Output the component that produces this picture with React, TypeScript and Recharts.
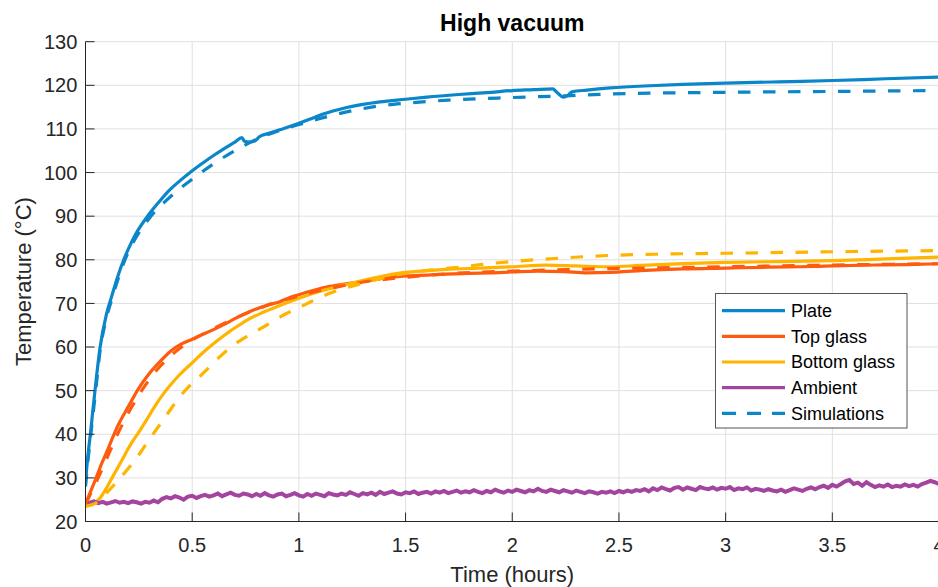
import { CartesianGrid, ComposedChart, Line, XAxis, YAxis } from "recharts"

// Temperatures (°C) against time (hours).
type Pt = [number, number]

const plateMeasured: Pt[] = [
  [0, 29], [0.008, 33.5], [0.016, 37.2], [0.025, 41], [0.033, 44.8],
  [0.05, 52.5], [0.067, 59.5], [0.098, 67.5], [0.122, 71.5], [0.15, 76],
  [0.176, 79.6], [0.2, 82.4], [0.24, 86.3], [0.294, 90.2], [0.34, 93],
  [0.39, 95.8], [0.442, 98.1], [0.505, 100.6], [0.55, 102.2], [0.6, 103.9],
  [0.65, 105.5], [0.7, 107.0], [0.733, 108.0], [0.745, 107.2], [0.77, 107.0],
  [0.795, 107.3], [0.815, 108.2], [0.86, 109.0], [0.91, 109.8], [0.96, 110.6],
  [1.0, 111.3], [1.05, 112.2], [1.114, 113.4], [1.224, 114.9], [1.38, 116.2],
  [1.5, 116.8], [1.6, 117.3], [1.75, 117.9], [1.9, 118.4], [2.0, 118.8],
  [2.1, 119.0], [2.19, 119.2], [2.205, 118.6], [2.24, 117.3], [2.26, 117.7],
  [2.28, 118.5], [2.35, 118.9], [2.46, 119.4], [2.645, 119.9], [2.8, 120.2],
  [3.0, 120.5], [3.25, 120.8], [3.505, 121.1], [3.75, 121.5], [4.0, 121.9],
]

const topGlassMeasured: Pt[] = [
  [0, 24], [0.025, 27], [0.05, 30], [0.075, 33.2], [0.1, 36], [0.15, 41.8],
  [0.2, 46.3], [0.25, 50.6], [0.3, 54], [0.35, 56.7], [0.4, 59.1], [0.45, 60.7],
  [0.5, 61.8], [0.55, 62.9], [0.6, 64], [0.65, 65.2], [0.7, 66.5], [0.755, 67.8],
  [0.8, 68.7], [0.85, 69.6], [0.911, 70.4], [0.95, 71.2], [1.0, 72], [1.07, 73],
  [1.145, 73.9], [1.22, 74.5], [1.3, 75.0], [1.4, 75.8], [1.5, 76.3], [1.6, 76.5],
  [1.69, 76.7], [1.8, 76.9], [1.9, 77.0], [2.0, 77.2], [2.12, 77.4], [2.24, 77.3],
  [2.35, 77.0], [2.46, 77.1], [2.6, 77.5], [2.8, 77.9], [3.0, 78.1], [3.2, 78.3],
  [3.35, 78.4], [3.5, 78.6], [3.7, 78.8], [3.85, 78.9], [4.0, 79.1],
]

const bottomGlassMeasured: Pt[] = [
  [0, 23.5], [0.03, 23.9], [0.067, 25.3], [0.1, 27.8], [0.129, 30.4], [0.17, 34],
  [0.208, 37.4], [0.25, 40.5], [0.286, 43.3], [0.325, 46.4], [0.364, 49.2],
  [0.4, 51.4], [0.442, 53.7], [0.505, 56.6], [0.55, 58.7], [0.598, 60.7],
  [0.64, 62.3], [0.676, 63.6], [0.72, 65.0], [0.755, 66.1], [0.83, 67.9],
  [0.911, 69.5], [1.0, 71.2], [1.1, 72.8], [1.22, 74.3], [1.35, 75.8], [1.5, 77.1],
  [1.6, 77.5], [1.69, 77.8], [1.85, 78.1], [2.0, 78.4], [2.16, 78.8], [2.3, 78.6],
  [2.46, 78.4], [2.6, 78.7], [2.8, 79.1], [3.0, 79.4], [3.25, 79.6], [3.5, 79.8],
  [3.75, 80.2], [4.0, 80.6],
]

// ambient logger, one reading every 0.02 h from t = 0
const ambientStep = 0.02
const ambientTemps = [
  24.0, 24.3, 24.6, 24.2, 24.5, 24.1, 24.4, 24.7, 24.3, 24.5,
  24.2, 24.6, 24.4, 24.1, 24.5, 24.3, 24.8, 24.4, 25.2, 25.6,
  25.3, 25.8, 25.5, 25.0, 25.7, 25.9, 25.4, 25.8, 26.1, 25.7,
  26.0, 26.4, 25.8, 26.2, 26.6, 26.1, 25.9, 26.4, 26.2, 25.8,
  26.3, 25.9, 26.5, 26.0, 25.7, 26.2, 26.4, 25.8, 26.1, 26.5,
  26.0, 25.7, 26.3, 25.9, 26.4, 26.1, 25.8, 26.5, 26.2, 26.0,
  26.4, 26.1, 26.7, 26.3, 25.9, 26.5, 26.2, 26.6, 26.1, 26.8,
  26.3, 26.6, 26.9, 26.4, 26.2, 26.7, 26.5, 26.9, 26.3, 26.6,
  26.8, 26.4, 26.9, 26.6, 27.0, 26.5, 26.8, 27.1, 26.6, 26.9,
  26.7, 27.2, 26.8, 26.5, 27.0, 26.7, 27.3, 26.9, 26.6, 27.1,
  26.8, 27.3, 27.0, 26.7, 27.2, 26.9, 27.5, 27.0, 26.8, 27.3,
  27.0, 26.7, 27.2, 26.9, 26.6, 27.1, 26.8, 26.5, 26.9, 26.7,
  26.4, 26.8, 26.6, 26.9, 26.5, 27.0, 26.7, 27.1, 26.8, 27.2,
  27.0, 27.4, 26.9, 27.6, 27.2, 27.8, 27.4, 27.1, 27.7, 27.9,
  27.3, 27.8, 27.5, 27.2, 27.9, 27.6, 27.4, 27.8, 27.3, 27.7,
  27.5, 27.9, 27.2, 27.6, 27.4, 27.8, 27.1, 27.5, 27.3, 27.0,
  27.4, 27.1, 26.9, 27.3, 26.8, 27.2, 27.6, 27.3, 27.0, 27.5,
  27.8, 27.4, 27.9, 28.2, 27.7, 28.4, 28.0, 28.6, 29.2, 29.5,
  28.6, 28.9, 28.2, 29.0, 28.4, 27.9, 28.3, 28.0, 28.5, 27.9,
  28.2, 28.0, 28.5, 28.1, 28.4, 28.0, 28.6, 28.9, 29.3, 29.0,
  28.6,
]

const plateSim: Pt[] = [
  [0, 28], [0.016, 36], [0.033, 43.5], [0.05, 51], [0.067, 58.6], [0.098, 66.6],
  [0.122, 70.8], [0.15, 75.2], [0.176, 78.9], [0.2, 81.7], [0.24, 85.4],
  [0.3, 89.6], [0.37, 93.2], [0.45, 96.6], [0.52, 99.2], [0.6, 102.0],
  [0.7, 105.0], [0.8, 107.6], [0.9, 109.5], [1.0, 111.0], [1.114, 112.6],
  [1.224, 113.9], [1.38, 115.3], [1.5, 115.9], [1.7, 116.6], [2.0, 117.2],
  [2.25, 117.6], [2.458, 118.0], [2.645, 118.2], [3.0, 118.4], [3.5, 118.6],
  [4.0, 118.8],
]

const topGlassSim: Pt[] = [
  [0, 24], [0.05, 29], [0.1, 34.5], [0.15, 40], [0.2, 44.8], [0.25, 49],
  [0.3, 52.6], [0.35, 55.6], [0.4, 58], [0.45, 60], [0.5, 61.6], [0.6, 64.2],
  [0.7, 66.6], [0.8, 68.6], [0.9, 70.3], [1.0, 71.7], [1.1, 73.0], [1.2, 74.0],
  [1.3, 74.9], [1.4, 75.5], [1.5, 76.0], [1.7, 76.8], [2.0, 77.4], [2.3, 77.8],
  [2.6, 78.1], [3.0, 78.4], [3.5, 78.8], [4.0, 79.1],
]

const bottomGlassSim: Pt[] = [
  [0, 23.5], [0.05, 24.3], [0.098, 26.5], [0.15, 29.3], [0.208, 32.6],
  [0.25, 35.3], [0.286, 37.9], [0.325, 40.6], [0.364, 43.3], [0.4, 45.8],
  [0.442, 48.6], [0.48, 50.7], [0.52, 52.5], [0.57, 54.9], [0.63, 57.8],
  [0.69, 60.3], [0.755, 62.4], [0.82, 64.2], [0.88, 65.9], [0.93, 67.4],
  [0.99, 68.8], [1.036, 69.9], [1.1, 71.4], [1.16, 72.6], [1.23, 73.7],
  [1.3, 74.6], [1.4, 75.9], [1.5, 76.9], [1.63, 77.7], [1.75, 78.3],
  [1.87, 79.0], [2.0, 79.6], [2.2, 80.3], [2.46, 81.0], [2.7, 81.3],
  [3.0, 81.5], [3.3, 81.7], [3.6, 81.9], [4.0, 82.1],
]

const xTicks = [0, 0.5, 1, 1.5, 2, 2.5, 3, 3.5, 4]
const yTicks = [20, 30, 40, 50, 60, 70, 80, 90, 100, 110, 120, 130]
const legendNames = ["Plate", "Top glass", "Bottom glass", "Ambient", "Simulations"]

const FONT = '"Liberation Sans", Arial, Helvetica, sans-serif'
const AXIS = "#262626"
const GRID = "#e0e0e0"
const BLUE = "#0a86c9"
const RED = "#ff5b0f"
const YELLOW = "#ffb400"
const PURPLE = "#a3449e"
const DASH = "12.5 12.5"
const LW = 3.2

const legendColor: Record<string, string> = {
  Plate: BLUE, "Top glass": RED, "Bottom glass": YELLOW, Ambient: PURPLE, Simulations: BLUE,
}

const rows = (pts: Pt[]) => pts.map(([t, T]) => ({ t, T }))
const ambientRows = ambientTemps.map((T, i) => ({ t: +(i * ambientStep).toFixed(2), T }))

const fmtX = (v: number) => String(v)

function YTitle({ viewBox }: any) {
  const x = viewBox.x + 30.5
  const y = viewBox.y + viewBox.height / 2
  return (
    <text x={x} y={y} transform={`rotate(-90, ${x}, ${y})`} textAnchor="middle"
      fontFamily={FONT} fontSize={22} fill={AXIS}>
      Temperature (°C)
    </text>
  )
}

function XTitle({ viewBox }: any) {
  return (
    <text x={viewBox.x + viewBox.width / 2} y={viewBox.y + 60.5} textAnchor="middle"
      fontFamily={FONT} fontSize={22} fill={AXIS}>
      Time (hours)
    </text>
  )
}

function LegendBox() {
  return (
    <svg width={193} height={136} style={{ position: "absolute", left: 715, top: 293 }}>
      <rect x={0.5} y={0.5} width={191.5} height={134.5} fill="#fff" stroke="#555" strokeWidth={1} />
      {legendNames.map((name, i) => {
        const cy = 17.6 + i * 25.7
        return (
          <g key={name}>
            <line x1={7} x2={70} y1={cy} y2={cy} stroke={legendColor[name]} strokeWidth={LW}
              strokeDasharray={name === "Simulations" ? "14 11" : undefined} />
            <text x={76} y={cy + 6.3} fontFamily={FONT} fontSize={18} fill="#000">{name}</text>
          </g>
        )
      })}
    </svg>
  )
}

export default function App() {
  const common = { dataKey: "T", dot: false, isAnimationActive: false, strokeWidth: LW, type: "monotone" as const }
  return (
    <div style={{ position: "absolute", left: 0, top: 0, width: 938, height: 587, overflow: "hidden", background: "#fff" }}>
      <ComposedChart width={1000} height={587} margin={{ top: 41.7, right: 61, bottom: 0, left: 0.5 }}>
        <text x={512.3} y={30.7} textAnchor="middle" fontFamily={FONT} fontSize={23} fontWeight="bold" fill="#000">
          High vacuum
        </text>
        <CartesianGrid stroke={GRID} strokeWidth={1} />
        <XAxis
          dataKey="t" type="number" domain={[0, 4]} ticks={xTicks} interval={0}
          height={65.5} tickSize={-9} tickMargin={25} tickFormatter={fmtX}
          tick={{ fill: AXIS, fontSize: 20, fontFamily: FONT }}
          axisLine={{ stroke: AXIS, strokeWidth: 1 }} tickLine={{ stroke: AXIS, strokeWidth: 1 }}
          label={<XTitle />} allowDataOverflow
        />
        <XAxis
          xAxisId="top" orientation="top" dataKey="t" type="number" domain={[0, 4]} ticks={xTicks}
          interval={0} height={0} tickSize={-9} tick={false}
          axisLine={{ stroke: AXIS, strokeWidth: 1 }} tickLine={{ stroke: AXIS, strokeWidth: 1 }}
          allowDataOverflow
        />
        <YAxis
          type="number" domain={[20, 130]} ticks={yTicks} interval={0} width={85}
          tickSize={-9} tickMargin={17.2}
          tick={{ fill: AXIS, fontSize: 20, fontFamily: FONT }}
          axisLine={{ stroke: AXIS, strokeWidth: 1 }} tickLine={{ stroke: AXIS, strokeWidth: 1 }}
          label={<YTitle />} allowDataOverflow
        />
        <YAxis
          yAxisId="right" orientation="right" type="number" domain={[20, 130]} ticks={yTicks}
          interval={0} width={0} tickSize={-9} tick={false}
          axisLine={{ stroke: AXIS, strokeWidth: 1 }} tickLine={{ stroke: AXIS, strokeWidth: 1 }}
          allowDataOverflow
        />

        <Line {...common} name="Plate" data={rows(plateMeasured)} stroke={BLUE} />
        <Line {...common} name="Top glass" data={rows(topGlassMeasured)} stroke={RED} />
        <Line {...common} name="Bottom glass" data={rows(bottomGlassMeasured)} stroke={YELLOW} />
        <Line {...common} name="Ambient" data={ambientRows} stroke={PURPLE} type="linear" strokeWidth={4} />
        <Line {...common} name="Plate sim" data={rows(plateSim)} stroke={BLUE} strokeDasharray={DASH} />
        <Line {...common} name="Top glass sim" data={rows(topGlassSim)} stroke={RED} strokeDasharray={DASH} />
        <Line {...common} name="Bottom glass sim" data={rows(bottomGlassSim)} stroke={YELLOW} strokeDasharray={DASH} />
      </ComposedChart>
      <LegendBox />
    </div>
  )
}
